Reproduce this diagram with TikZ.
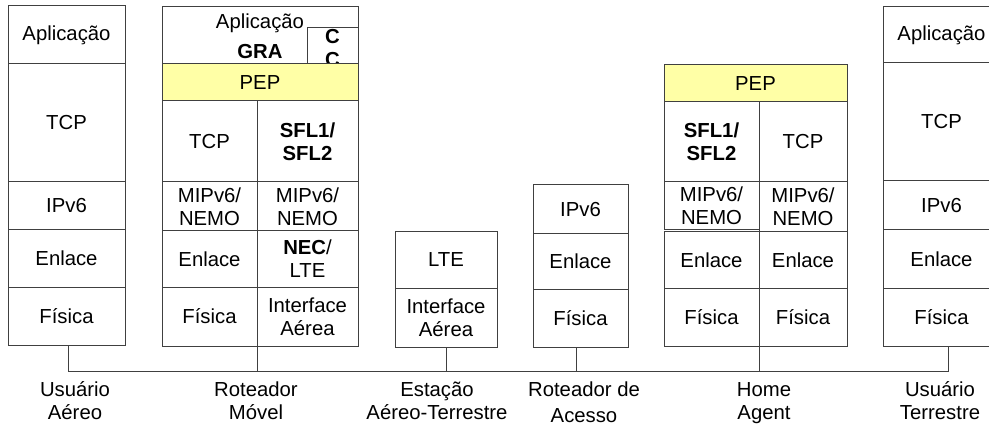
\documentclass[tikz,border=0pt]{standalone}
\usepackage{fontspec}
\setmainfont{Liberation Sans}

\definecolor{pepyellow}{RGB}{255,255,166}
\definecolor{linegray}{RGB}{64,64,64}

\begin{document}
\begin{tikzpicture}[
    x=1pt, y=-1pt,
    font=\fontsize{20.3}{23}\selectfont,
    cell/.style 2 args={rectangle, draw=linegray, line width=1pt, inner sep=0pt, outer sep=0pt, align=center, anchor=north west, minimum width=#1, minimum height=#2},
    wire/.style={draw=linegray, line width=1pt},
    caption/.style={anchor=north, align=center, inner sep=0pt}
]
    \useasboundingbox (0,0) rectangle (989,425);
    \clip (0,0) rectangle (989,425);

    % Usuario Aereo
    \node[cell={117}{58}]  (uaApp)  at (8,6)   {Aplicação};
    \node[cell={117}{118}] (uaTcp)  at (8,64)  {TCP};
    \node[cell={117}{48}]  (uaIp)   at (8,182) {IPv6};
    \node[cell={117}{57}]  (uaLink) at (8,230) {Enlace};
    \node[cell={117}{58}]  (uaPhy)  at (8,287) {Física};

    % Roteador Movel
    \node[cell={196}{57}] (rmApp) at (162,7) {};
    \node[anchor=base] (rmAppText) at (260,29) {Aplicação};
    \node[anchor=base] (rmGra) at (260,59) {\textbf{GRA}};
    \node[cell={51}{36}] (rmCc) at (307,28) {};
    \node[anchor=north, align=center, inner sep=1pt] (rmCcText) at (rmCc.north) {\textbf{C}\\\textbf{C}};
    \node[cell={196}{37}, fill=pepyellow] (rmPep) at (162,64) {PEP};
    \node[cell={95}{81}]  (rmTcp)   at (162,101) {TCP};
    \node[cell={101}{81}] (rmSfl)   at (257,101) {\textbf{SFL1/}\\\textbf{SFL2}};
    \node[cell={95}{49}]  (rmMip1)  at (162,182) {MIPv6/\\NEMO};
    \node[cell={101}{49}] (rmMip2)  at (257,182) {MIPv6/\\NEMO};
    \node[cell={95}{56}]  (rmLink1) at (162,231) {Enlace};
    \node[cell={101}{56}] (rmLink2) at (257,231) {\textbf{NEC}/\\LTE};
    \node[cell={95}{59}]  (rmPhy1)  at (162,287) {Física};
    \node[cell={101}{59}] (rmPhy2)  at (257,287) {Interface\\Aérea};

    % Estacao Aereo-Terrestre
    \node[cell={102}{56}] (eaLte) at (395,232) {LTE};
    \node[cell={102}{59}] (eaAir) at (395,288) {Interface\\Aérea};

    % Roteador de Acesso
    \node[cell={95}{49}] (raIp)   at (533,185) {IPv6};
    \node[cell={95}{55}] (raLink) at (533,234) {Enlace};
    \node[cell={95}{58}] (raPhy)  at (533,289) {Física};

    % Home Agent
    \node[cell={183}{37}, fill=pepyellow] (haPep) at (664,65) {PEP};
    \node[cell={95}{80}] (haSfl)   at (664,102) {\textbf{SFL1/}\\\textbf{SFL2}};
    \node[cell={88}{80}] (haTcp)   at (759,102) {TCP};
    \node[cell={95}{48}] (haMip1)  at (664,182) {MIPv6/\\NEMO};
    \node[cell={88}{50}] (haMip2)  at (759,182) {MIPv6/\\NEMO};
    \node[cell={95}{56}] (haLink1) at (664,232) {Enlace};
    \node[cell={88}{56}] (haLink2) at (759,232) {Enlace};
    \node[cell={95}{58}] (haPhy1)  at (664,288) {Física};
    \node[cell={88}{58}] (haPhy2)  at (759,288) {Física};

    % Usuario Terrestre
    \node[cell={117}{56}]  (utApp)  at (883,7)   {Aplicação};
    \node[cell={117}{118}] (utTcp)  at (883,63)  {TCP};
    \node[cell={117}{49}]  (utIp)   at (883,181) {IPv6};
    \node[cell={117}{58}]  (utLink) at (883,230) {Enlace};
    \node[cell={117}{58}]  (utPhy)  at (883,288) {Física};

    % Shared link
    \coordinate (bus) at (0,371);
    \draw[wire] ([xshift=1.5]uaPhy.south) |- ([xshift=6.5]utPhy.south |- bus) -- ([xshift=6.5]utPhy.south);
    \draw[wire] (rmPhy2.south west) -- (rmPhy2.south west |- bus);
    \draw[wire] (eaAir.south) -- (eaAir.south |- bus);
    \draw[wire] ([xshift=-4]raPhy.south) -- ([xshift=-4]raPhy.south |- bus);
    \draw[wire] (haPhy2.south west) -- (haPhy2.south west |- bus);

    % Captions
    \node[caption] (uaName) at (75,380)  {\strut Usuário\\Aéreo};
    \node[caption] (rmName) at (256,380) {\strut Roteador\\Móvel};
    \node[caption] (eaName) at (437,380) {\strut Estação\\Aéreo-Terrestre};
    \node[caption] (raName) at (584,380) {\strut Roteador de\\[3pt]Acesso};
    \node[caption] (haName) at (764,380) {\strut Home\\Agent};
    \node[caption] (utName) at (940,380) {\strut Usuário\\Terrestre};
\end{tikzpicture}
\end{document}
